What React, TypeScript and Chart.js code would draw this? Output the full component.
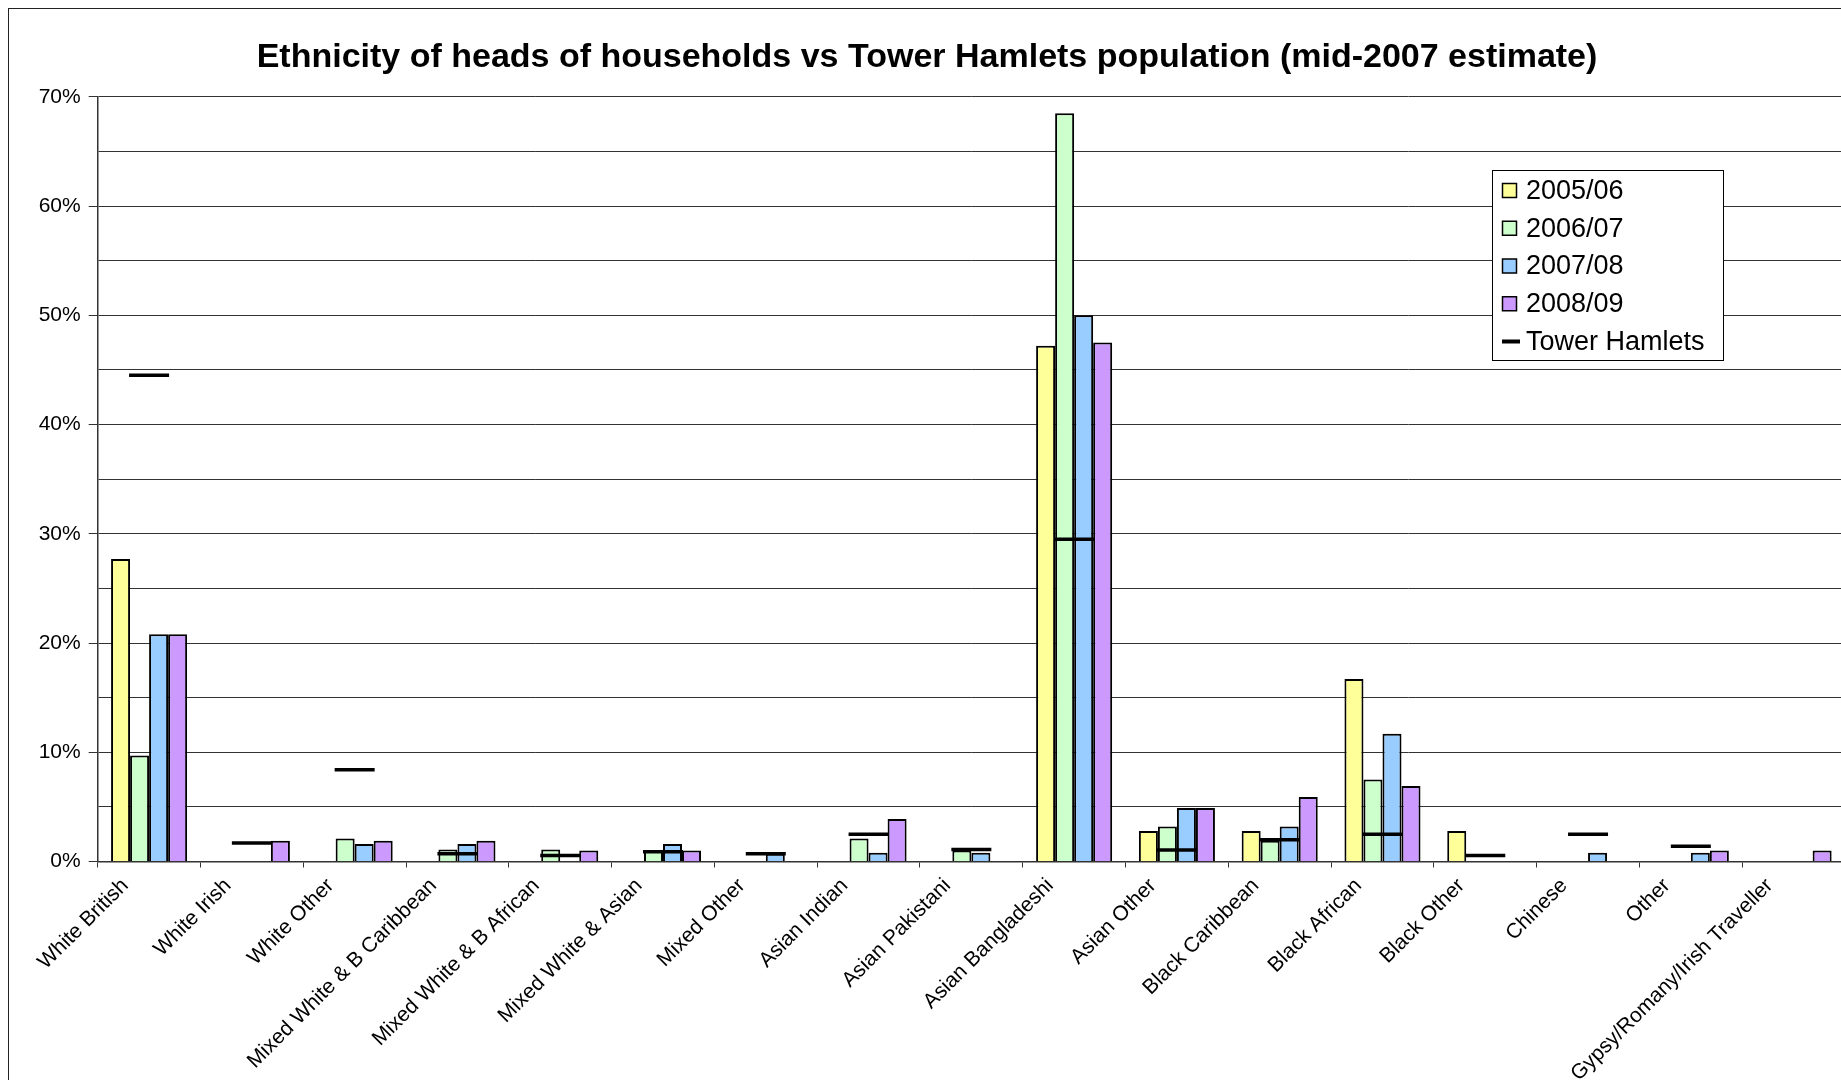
import React, { useEffect, useRef } from 'react';
import { Chart, registerables } from 'chart.js';

Chart.register(...registerables);

const categories = [
  'White British',
  'White Irish',
  'White Other',
  'Mixed White & B Caribbean',
  'Mixed White & B African',
  'Mixed White & Asian',
  'Mixed Other',
  'Asian Indian',
  'Asian Pakistani',
  'Asian Bangladeshi',
  'Asian Other',
  'Black Caribbean',
  'Black African',
  'Black Other',
  'Chinese',
  'Other',
  'Gypsy/Romany/Irish Traveller',
];

const seriesLabels = ['2005/06', '2006/07', '2007/08', '2008/09'];
const towerHamletsLabel = 'Tower Hamlets';

const values2005 = [27.7, null, null, null, null, null, null, null, null, 47.2, 2.8, 2.8, 16.7, 2.8, null, null, null];
const values2006 = [9.7, null, 2.1, 1.1, 1.1, 1.0, null, 2.1, 1.0, 68.5, 3.2, 1.9, 7.5, null, null, null, null];
const values2007 = [20.8, null, 1.6, 1.6, null, 1.6, 0.7, 0.8, 0.8, 50.0, 4.9, 3.2, 11.7, null, 0.8, 0.8, null];
const values2008 = [20.8, 1.9, 1.9, 1.9, 1.0, 1.0, null, 3.9, null, 47.5, 4.9, 5.9, 6.9, null, null, 1.0, 1.0];
const towerHamlets = [44.5, 1.7, 8.4, 0.7, 0.55, 0.9, 0.7, 2.5, 1.1, 29.5, 1.05, 2.0, 2.5, 0.55, 2.5, 1.4, null];

const seriesColors = ['#FFFF99', '#CCFFCC', '#99CCFF', '#CC99FF'];

const yMin = 0;
const yMax = 70;
const yStep = 5;
const yLabelStep = 10;

const FONT = '"Liberation Sans", Arial, Helvetica, sans-serif';
const TITLE = 'Ethnicity of heads of households vs Tower Hamlets population (mid-2007 estimate)';

const CANVAS_W = 1836;
const CANVAS_H = 1071;

const boxLegend = {
  id: 'boxLegend',
  afterDraw(chart: any) {
    const { ctx, chartArea } = chart;
    const x0 = Math.round(chartArea.right - 353);
    const y0 = Math.round(chartArea.top + 73);
    const w = 231;
    const h = 190;
    ctx.save();
    ctx.fillStyle = '#ffffff';
    ctx.fillRect(x0, y0, w, h);
    ctx.strokeStyle = '#000';
    ctx.lineWidth = 1;
    ctx.strokeRect(x0 + 0.5, y0 + 0.5, w, h);
    ctx.font = `27px ${FONT}`;
    ctx.textBaseline = 'middle';
    ctx.textAlign = 'left';
    chart.data.datasets.forEach((ds: any, i: number) => {
      const cy = y0 + 20.5 + i * 37.75;
      if (ds.type === 'line') {
        ctx.strokeStyle = '#000';
        ctx.lineWidth = 4;
        ctx.beginPath();
        ctx.moveTo(x0 + 10, cy);
        ctx.lineTo(x0 + 28, cy);
        ctx.stroke();
      } else {
        ctx.fillStyle = ds.backgroundColor;
        ctx.fillRect(x0 + 10.5, cy - 7, 14, 14);
        ctx.strokeStyle = '#000';
        ctx.lineWidth = 1.5;
        ctx.strokeRect(x0 + 10.5, cy - 7, 14, 14);
      }
      ctx.fillStyle = '#000';
      ctx.fillText(ds.label, x0 + 34, cy + 1);
    });
    ctx.restore();
  },
};

export default function App() {
  const canvasRef = useRef<HTMLCanvasElement | null>(null);

  useEffect(() => {
    const canvas = canvasRef.current;
    if (!canvas) return;
    const barData = [values2005, values2006, values2007, values2008];
    const datasets: any[] = barData.map((vals, i) => ({
      type: 'bar',
      label: seriesLabels[i],
      data: vals,
      backgroundColor: seriesColors[i],
      borderColor: '#000',
      borderWidth: 2,
      categoryPercentage: 0.74,
      barPercentage: 1.0,
      order: 1,
    }));
    datasets.push({
      type: 'line',
      label: towerHamletsLabel,
      data: towerHamlets,
      showLine: false,
      pointStyle: 'line',
      pointRadius: 20,
      pointHoverRadius: 20,
      pointBorderWidth: 3.5,
      pointBorderColor: '#000',
      pointBackgroundColor: '#000',
      borderColor: '#000',
      backgroundColor: '#000',
      order: 0,
    });

    const chart = new Chart(canvas, {
      type: 'bar',
      data: { labels: categories, datasets },
      options: {
        responsive: false,
        animation: false,
        devicePixelRatio: 1,
        layout: { autoPadding: false, padding: { left: 0, right: 0, top: 0, bottom: 0 } },
        plugins: {
          legend: { display: false },
          tooltip: { enabled: false },
          title: {
            display: true,
            text: TITLE,
            color: '#000',
            font: { family: FONT, size: 34, weight: 'bold' },
            padding: { top: 28, bottom: 19 },
          },
        },
        scales: {
          x: {
            offset: true,
            grid: {
              offset: true,
              drawOnChartArea: false,
              drawTicks: true,
              tickLength: 6,
              color: '#333',
              lineWidth: 1,
            },
            border: { display: true, color: '#333', width: 1.5 },
            ticks: {
              autoSkip: false,
              minRotation: 45,
              maxRotation: 45,
              color: '#000',
              padding: 6,
              labelOffset: -24,
              font: { family: FONT, size: 21 },
            },
            afterFit: (scale: any) => {
              scale.height = CANVAS_H - 852.5;
              scale.paddingLeft = 0;
              scale.paddingRight = 0;
            },
          },
          y: {
            min: yMin,
            max: yMax,
            grid: {
              color: '#333',
              lineWidth: 1,
              tickLength: 9,
              tickColor: (ctx: any) =>
                ctx.tick && ctx.tick.value % yLabelStep === 0 ? '#333' : 'rgba(0,0,0,0)',
            },
            border: { display: true, color: '#333', width: 1.5 },
            ticks: {
              stepSize: yStep,
              color: '#000',
              padding: 8,
              font: { family: FONT, size: 21 },
              callback: (value: any) => (Number(value) % yLabelStep === 0 ? `${value}%` : ''),
            },
            afterFit: (scale: any) => {
              scale.width = 88.7;
            },
          },
        },
      },
      plugins: [boxLegend],
    });

    return () => {
      chart.destroy();
    };
  }, []);

  return (
    <div
      style={{
        position: 'fixed',
        left: 0,
        top: 0,
        width: 1841,
        height: 1080,
        overflow: 'hidden',
        background: '#fff',
      }}
    >
      <div
        style={{
          position: 'absolute',
          left: 8,
          top: 8,
          width: CANVAS_W,
          height: CANVAS_H,
          border: '1px solid #222',
        }}
      >
        <canvas
          ref={canvasRef}
          width={CANVAS_W}
          height={CANVAS_H}
          style={{ display: 'block', width: CANVAS_W, height: CANVAS_H }}
        />
      </div>
    </div>
  );
}
